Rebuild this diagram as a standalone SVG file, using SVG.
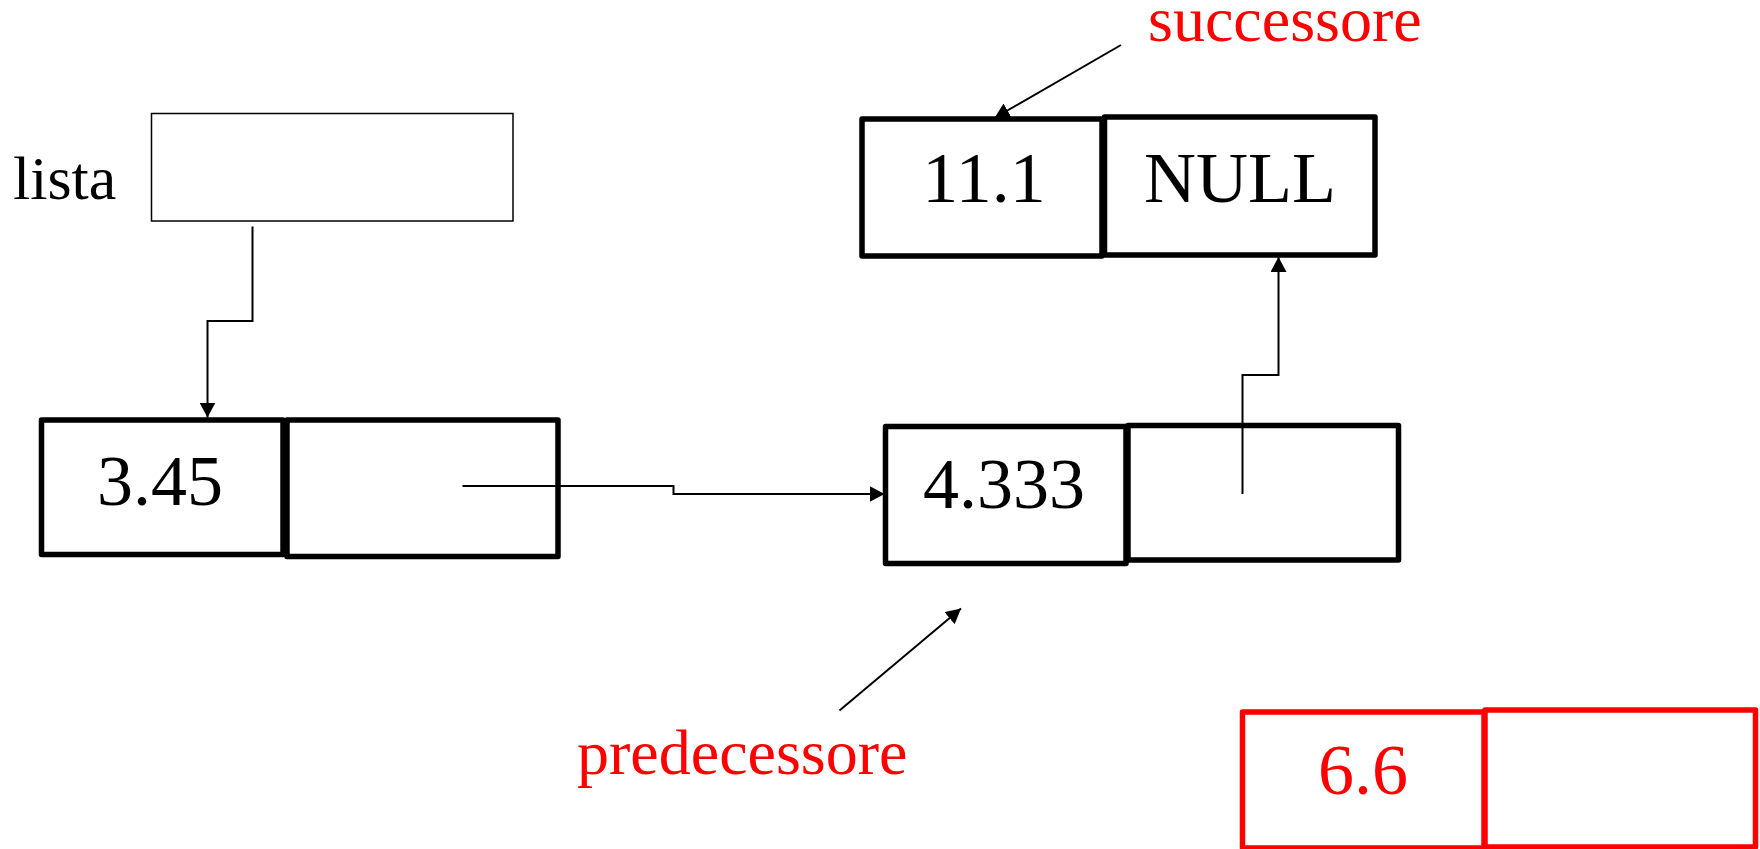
<svg xmlns="http://www.w3.org/2000/svg" width="1760" height="849" viewBox="0 0 1760 849">
<style>
.cell{fill:#fff;stroke:#000;stroke-width:5.5;stroke-linejoin:round}
.red{stroke:#ff0000}
.thin{fill:#fff;stroke:#000;stroke-width:1.5}
.conn{fill:none;stroke:#000;stroke-width:2}
.t{font-family:"Liberation Serif","Times New Roman",serif;fill:#000}
.v{font-size:72px;text-anchor:middle}
.lbl{font-size:64px;fill:#ff0000}
</style>
<defs>
<marker id="arr" markerUnits="userSpaceOnUse" markerWidth="15" markerHeight="16" viewBox="0 0 15 16" refX="15" refY="8" orient="auto">
<path d="M0,0 L15,8 L0,16 z" fill="#000"/>
</marker>
</defs>
<g id="lista">
<text class="t" x="13" y="199" font-size="62">lista</text>
<rect class="thin" x="151.5" y="113.5" width="361.5" height="107.5"/>
</g>
<g id="node-345">
<rect class="cell" x="41.5" y="420" width="241.5" height="134.5"/>
<rect class="cell" x="287" y="420" width="271" height="136.5"/>
<text class="t v" x="160" y="505">3.45</text>
</g>
<g id="node-4333">
<rect class="cell" x="885.5" y="426.5" width="240.5" height="137"/>
<rect class="cell" x="1128" y="425.5" width="270.5" height="134.5"/>
<text class="t v" x="1004" y="508">4.333</text>
</g>
<g id="node-111">
<rect class="cell" x="862" y="119" width="240" height="137"/>
<rect class="cell" x="1104.5" y="117" width="270.5" height="138"/>
<text class="t v" x="984" y="202">11.1</text>
<text class="t v" x="1240" y="202">NULL</text>
</g>
<g id="node-66">
<rect class="cell red" x="1242.5" y="712" width="241.5" height="136"/>
<rect class="cell red" x="1485" y="710" width="270.5" height="137"/>
<text class="t v" x="1363" y="794" style="fill:#ff0000">6.6</text>
</g>
<g id="label-successore">
<text class="t lbl" x="1148" y="41">successore</text>
</g>
<g id="label-predecessore">
<text class="t lbl" x="577" y="774">predecessore</text>
</g>
<g id="connectors">
<path class="conn" d="M252.5,226.5 V321 H207.5 V417.5" marker-end="url(#arr)"/>
<path class="conn" d="M462.5,486 H673.5 V494 H884.5" marker-end="url(#arr)"/>
<path class="conn" d="M1242.5,494 V375 H1278.5 V257" marker-end="url(#arr)"/>
<path class="conn" d="M1121,45 L994.5,118" marker-end="url(#arr)"/>
<path class="conn" d="M839.5,710.5 L961,608.5" marker-end="url(#arr)"/>
</g>
</svg>
